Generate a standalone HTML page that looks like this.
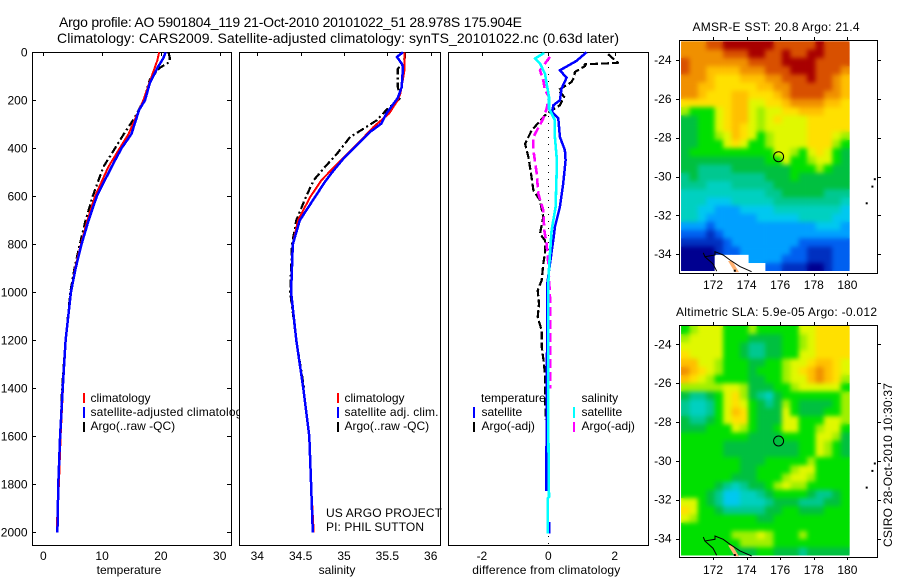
<!DOCTYPE html>
<html lang="en">
<head>
<meta charset="utf-8">
<title>Argo profile</title>
<style>
html,body{margin:0;padding:0;background:#fff;}
svg{display:block;}
text{font-family:"Liberation Sans",sans-serif;font-size:12px;fill:#000;}
.title{font-size:14px;}
</style>
</head>
<body>
<svg id="chart" xmlns="http://www.w3.org/2000/svg" width="900" height="580" viewBox="0 0 900 580">
  <defs>
    <filter id="soften" x="-5%" y="-5%" width="110%" height="110%" color-interpolation-filters="sRGB">
      <feGaussianBlur in="SourceGraphic" stdDeviation="2.5" result="soft"/>
      <feMerge>
        <feMergeNode in="SourceGraphic"/>
        <feMergeNode in="soft"/>
      </feMerge>
    </filter>
    <clipPath id="clip-sst"><rect x="681" y="41" width="169" height="230"/></clipPath>
    <clipPath id="clip-sla"><rect x="681" y="326" width="169" height="229.5"/></clipPath>
    <clipPath id="frame-sst"><rect x="680" y="41" width="197" height="232"/></clipPath>
    <clipPath id="frame-sla"><rect x="680" y="326" width="197" height="231"/></clipPath>
  </defs>
  <rect x="0" y="0" width="900" height="580" fill="#fff"/>
  <text class="title" x="59" y="27" textLength="463" lengthAdjust="spacing">Argo profile: AO 5901804_119 21-Oct-2010 20101022_51 28.978S 175.904E</text>
  <text class="title" x="57" y="43" textLength="562" lengthAdjust="spacing">Climatology: CARS2009. Satellite-adjusted climatology: synTS_20101022.nc (0.63d later)</text>

  <g id="panel-t"></g>
  <g>
    <rect x="83" y="393" width="2" height="10" fill="#f00"/>
    <rect x="83" y="407" width="2" height="11" fill="#00f"/>
    <rect x="83" y="422" width="2" height="10" fill="#000"/>
    <text x="90.5" y="402">climatology</text>
    <text x="90.5" y="416" textLength="158" lengthAdjust="spacing">satellite-adjusted climatology</text>
    <text x="90.5" y="430">Argo(..raw -QC)</text>
  </g>

  <rect x="239" y="52" width="202" height="494" fill="#fff"/>
  <g id="panel-s"></g>
  <g>
    <rect x="337" y="393" width="2" height="10" fill="#f00"/>
    <rect x="337" y="407" width="2" height="11" fill="#00f"/>
    <rect x="337" y="422" width="2" height="10" fill="#000"/>
    <text x="344.5" y="402">climatology</text>
    <text x="344.5" y="416" textLength="94" lengthAdjust="spacing">satellite adj. clim.</text>
    <text x="344.5" y="430">Argo(..raw -QC)</text>
    <text x="326" y="517" textLength="116" lengthAdjust="spacing">US ARGO PROJECT</text>
    <text x="326" y="531" textLength="98" lengthAdjust="spacing">PI: PHIL SUTTON</text>
  </g>

  <g id="panel-d"></g>
  <g>
    <text x="481" y="402">temperature</text>
    <text x="581.5" y="402">salinity</text>
    <rect x="473" y="407" width="2" height="11" fill="#00f"/>
    <rect x="473" y="422" width="2" height="10" fill="#000"/>
    <rect x="573" y="407" width="2" height="11" fill="#0ff"/>
    <rect x="573" y="422" width="2" height="10" fill="#f0f"/>
    <text x="481.5" y="416">satellite</text>
    <text x="481.5" y="430">Argo(-adj)</text>
    <text x="581.5" y="416">satellite</text>
    <text x="581.5" y="430">Argo(-adj)</text>
  </g>

  <g id="map-sst"></g>
  <text x="692.5" y="31" textLength="167" lengthAdjust="spacing">AMSR-E SST: 20.8 Argo: 21.4</text>
  <g id="map-sla"></g>
  <text x="676" y="316" textLength="201" lengthAdjust="spacing">Altimetric SLA: 5.9e-05 Argo: -0.012</text>
  <text transform="translate(892 547) rotate(-90)" textLength="164" lengthAdjust="spacing">CSIRO 28-Oct-2010 10:30:37</text>
</svg>

<script>
// ---------- Profile data ----------
const tempTicks = [0, 10, 20, 30];
const salTicks = [34, 34.5, 35, 35.5, 36];
const salTickLabels = ['34', '34.5', '35', '35.5', '36'];
const diffTicks = [-2, 0, 2];
const depthTicks = [0, 200, 400, 600, 800, 1000, 1200, 1400, 1600, 1800, 2000];

const tempClimDepth = [0, 33, 75, 200, 240, 340, 400, 478, 600, 700, 800, 900, 1000, 1200, 1400, 1600, 1800, 1950, 2000];
const tempClim = [19.7, 19.4, 18.8, 17.0, 16.3, 14.5, 13.0, 11.05, 8.8, 7.5, 6.4, 5.4, 4.7, 3.8, 3.35, 2.95, 2.65, 2.35, 2.35];
const tempSatDepth = [0, 25, 61, 130, 200, 240, 340, 400, 478, 600, 700, 800, 900, 1000, 1200, 1400, 1600, 1800, 2000];
const tempSat = [20.8, 20.4, 19.5, 18.1, 17.3, 16.3, 15.0, 13.3, 11.6, 9.1, 7.7, 6.5, 5.5, 4.7, 3.8, 3.3, 2.85, 2.55, 2.4];
const tempArgoDepth = [0, 20, 40, 65, 115, 200, 270, 340, 400, 478, 600, 700, 800, 900, 1000, 1200, 1400, 1600];
const tempArgo = [21.3, 21.5, 21.5, 19.8, 18.1, 17.1, 15.6, 13.7, 12.2, 10.2, 8.4, 7.2, 6.2, 5.3, 4.6, 3.8, 3.2, 2.85];

const salClimDepth = [0, 70, 172, 200, 255, 311, 380, 465, 533, 603, 700, 800, 1000, 1200, 1400, 1600, 1800, 2000];
const salClim = [35.70, 35.70, 35.65, 35.62, 35.52, 35.34, 35.16, 34.92, 34.74, 34.61, 34.47, 34.41, 34.39, 34.45, 34.53, 34.6, 34.62, 34.65];
const salSatDepth = [0, 19, 47, 60, 145, 190, 255, 297, 332, 380, 436, 492, 540, 603, 700, 800, 1000, 1200, 1400, 1600, 1800, 2000];
const salSat = [35.68, 35.61, 35.665, 35.68, 35.665, 35.62, 35.49, 35.43, 35.30, 35.165, 35.01, 34.88, 34.78, 34.665, 34.49, 34.41, 34.39, 34.45, 34.53, 34.6, 34.62, 34.64];
const salArgoDepth = [0, 25, 70, 145, 190, 240, 283, 311, 353, 422, 478, 533, 603, 700, 800, 1000, 1200, 1400];
const salArgo = [35.70, 35.70, 35.62, 35.62, 35.65, 35.49, 35.38, 35.26, 35.07, 34.92, 34.78, 34.65, 34.56, 34.45, 34.40, 34.38, 34.45, 34.54];

const diffTempSatDepth = [0, 36, 75, 106, 151, 200, 221, 249, 276, 353, 408, 450, 547, 644, 728, 783, 811, 881, 964, 1159, 1381, 1561, 1828];
const diffTempSat = [1.15, 0.85, 0.35, 0.55, 0.4, 0.35, 0.15, 0.12, 0.3, 0.35, 0.5, 0.52, 0.45, 0.35, 0.2, 0.15, 0.12, 0.05, -0.03, -0.03, -0.05, -0.05, -0.06];
const diffTempArgoDepth = [8, 44, 50, 58, 82, 103, 124, 158, 186, 221, 242, 263, 325, 381, 436, 505, 575, 617, 686, 756, 784, 838, 881, 950, 992, 1048, 1103, 1159, 1228, 1298, 1353, 1395, 1533];
const diffTempArgo = [1.8, 2.1, 1.1, 1.1, 0.8, 0.78, 0.7, 0.3, 0.48, 0.35, 0.1, -0.1, -0.5, -0.7, -0.6, -0.52, -0.45, -0.25, -0.15, -0.25, -0.1, -0.1, -0.15, -0.2, -0.32, -0.28, -0.32, -0.2, -0.2, -0.13, -0.1, -0.1, -0.08];
const diffSalArgoDepth = [19, 75, 117, 158, 186, 235, 276, 353, 408, 505, 589, 658, 742, 798, 881, 1020, 1159, 1298, 1400];
const diffSalArgo = [0.05, -0.25, -0.15, -0.1, 0.02, -0.05, -0.15, -0.45, -0.45, -0.35, -0.3, -0.15, -0.12, -0.05, 0, 0.05, 0.05, 0.05, 0.05];
const diffSalSatDepth = [0, 5, 26, 47, 89, 130, 186, 235, 283, 353, 436, 505, 644, 742, 881, 964, 1159, 1381, 1561, 1853, 1860, 2005];
const diffSalSat = [-0.15, -0.15, -0.40, -0.25, -0.10, -0.05, 0.02, 0.02, 0.2, 0.2, 0.25, 0.25, 0.22, 0.1, 0.03, 0, 0, 0, 0, 0.02, -0.02, -0.02];
const diffBlipDepth = [1957, 2005];
const diffBlip = [0.04, 0.04];

// ---------- Map data (colour level per cell, null = land / no data) ----------
const lonTicks = [172, 174, 176, 178, 180];
const latTicks = [-24, -26, -28, -30, -32, -34];
const sstRows = [
[13,13,13,14,14,15,15,15,15,15,15,14,14,14,14,14,15,14,14,14],
[13,13,13,13,13,14,14,14,15,15,14,14,15,14,14,15,15,14,14,14],
[14,13,13,13,13,13,13,13,14,14,14,14,15,15,15,15,14,14,14,14],
[14,13,13,12,12,12,12,13,13,13,14,14,14,15,15,15,14,14,14,13],
[13,13,13,12,11,11,11,12,12,12,13,13,14,14,14,15,14,14,13,12],
[13,13,12,12,11,11,11,11,11,12,12,13,13,14,14,14,14,14,13,12],
[13,13,12,11,11,11,12,12,11,11,11,12,13,14,14,14,14,13,13,12],
[11,11,11,11,11,11,12,12,10,10,11,11,12,13,13,13,13,12,12,11],
[9,8,8,8,10,11,12,12,10,9,10,10,11,11,12,12,12,11,11,11],
[7,7,8,8,10,11,12,12,10,9,10,11,10,10,10,11,11,11,11,11],
[7,7,8,8,10,11,12,11,10,9,10,10,10,10,10,11,11,11,11,11],
[7,7,8,8,9,10,12,11,10,8,9,10,10,10,10,11,11,11,10,9],
[7,7,8,8,8,10,11,10,8,8,9,10,10,10,10,11,11,11,9,8],
[7,8,8,8,8,8,8,8,8,8,8,10,10,9,8,10,11,10,8,7],
[7,7,7,7,7,7,7,7,7,7,8,8,10,8,8,9,10,10,8,7],
[7,7,6,6,6,6,7,7,7,7,7,7,7,8,8,8,9,8,7,7],
[6,7,6,6,6,6,6,6,6,6,7,7,7,8,7,7,7,7,7,7],
[6,6,6,5,5,5,6,6,6,6,6,7,7,7,7,7,7,7,7,7],
[5,5,5,5,5,5,5,5,5,5,6,6,7,7,7,7,7,6,6,6],
[5,5,5,4,4,4,5,5,5,5,5,6,6,6,6,6,6,6,6,5],
[5,5,4,4,3,3,3,4,4,4,4,5,5,5,5,5,5,5,5,4],
[5,5,4,3,3,3,3,3,3,4,4,4,4,4,5,5,5,5,4,4],
[3,3,3,2,3,3,3,3,3,3,3,3,3,3,3,3,4,4,4,3],
[2,2,2,1,2,3,3,3,3,3,3,3,3,3,3,3,3,3,3,3],
[1,1,1,1,1,2,3,3,3,3,3,3,3,3,2,2,2,2,2,2],
[0,0,0,0,1,2,2,3,3,3,3,3,3,2,2,1,1,1,2,2],
[0,0,0,0,null,null,null,null,3,3,3,3,2,2,2,1,1,1,2,2],
[0,0,0,0,null,null,null,null,null,null,2,2,1,1,1,0,0,1,2,2]
];
const slaRows = [
[8,9,10,10,10,8,8,8,9,8,8,8,8,8,10,10,11,11,11,11],
[9,10,10,10,10,8,8,8,7,7,7,7,8,8,9,10,11,11,11,11],
[10,10,10,10,10,8,8,7,6,6,7,7,8,8,9,10,11,11,11,11],
[11,10,10,10,10,8,8,7,6,6,7,7,8,8,10,10,11,11,11,11],
[12,12,10,10,9,8,8,8,7,7,8,8,9,10,10,11,12,12,11,10],
[13,12,11,10,9,8,8,8,7,8,8,8,9,10,11,12,13,12,11,10],
[12,11,10,9,8,8,8,8,7,7,8,8,9,10,10,12,13,12,11,9],
[9,9,9,9,9,10,10,9,7,7,7,8,8,9,10,10,10,10,10,8],
[7,6,6,7,8,10,11,9,7,6,5,7,8,8,8,8,8,8,8,9],
[6,5,5,6,8,10,11,10,8,7,6,7,9,8,7,7,7,7,8,9],
[6,5,5,6,8,10,12,11,8,7,7,7,10,8,7,7,7,8,8,9],
[7,6,6,7,8,10,11,11,8,7,7,7,10,10,8,8,8,10,10,9],
[7,7,7,8,8,8,10,9,8,7,7,8,10,10,8,8,9,10,10,8],
[8,8,8,8,8,8,8,8,7,7,7,7,8,8,8,8,10,10,9,7],
[8,8,8,8,8,7,7,7,7,7,7,7,7,7,8,8,10,9,8,7],
[8,8,8,8,8,7,7,7,7,7,7,7,7,7,8,8,10,9,8,7],
[8,8,8,8,8,8,8,7,7,7,8,8,8,8,8,9,8,8,8,8],
[8,8,8,8,8,8,8,7,7,8,8,8,8,9,10,10,8,8,8,8],
[8,8,8,8,8,8,7,7,7,8,8,8,9,10,10,9,8,8,8,8],
[8,8,8,8,7,6,5,6,7,7,8,9,10,9,9,8,8,8,8,8],
[8,8,8,7,6,4,4,5,5,6,7,8,8,8,8,7,6,6,7,8],
[10,10,8,7,6,4,4,5,5,5,6,7,7,7,6,6,6,7,7,8],
[11,10,8,8,7,6,6,6,6,6,7,7,8,8,7,7,7,8,8,8],
[10,9,8,8,8,8,8,8,8,7,7,8,8,8,8,8,8,8,8,8],
[8,8,8,8,8,8,8,8,8,8,8,8,8,8,8,8,8,8,8,8],
[8,8,8,8,8,8,9,9,9,10,9,8,8,8,9,8,8,8,8,8],
[8,8,8,8,8,8,8,9,9,9,9,8,8,8,8,8,8,8,8,8],
[8,8,8,8,8,8,7,7,7,8,8,7,7,7,6,7,7,7,7,7]
];
const coastUpperLon = [171.42, 171.52, 172.12, 172.12, 172.61, 173.01, 173.61, 174.3];
const coastUpperLat = [-33.93, -34.13, -34.04, -33.87, -34.04, -34.3, -34.64, -34.9];
const coastLowerLon = [171.52, 172.0, 172.22];
const coastLowerLat = [-34.13, -34.5, -34.87];
const landLon = [172.9, 173.15, 173.55, 173.3];
const landLat = [-34.35, -34.35, -34.92, -34.92];
const islandLon = [181.63, 181.49, 181.15, 173.3];
const islandLat = [-30.14, -30.52, -31.38, -34.85];
const argoLon = 175.904;
const argoLat = -28.978;

// ---------- Drawing ----------
const NS = 'http://www.w3.org/2000/svg';
const palette = ['#000090','#0030c0','#0060f0','#00a0ff','#00c8f0','#00d0c0','#00c890','#00c040','#00e000','#a0f000','#e0f800','#ffe000','#ffc000','#f09000','#d85000','#a80000'];
const depthY = d => 52.3 + 0.24 * d;

function el(parent, tag, attrs) {
  const n = document.createElementNS(NS, tag);
  for (const k in attrs) n.setAttribute(k, attrs[k]);
  parent.appendChild(n);
  return n;
}

function label(parent, x, y, str, anchor, name) {
  const t = el(parent, 'text', {x: x, y: y, 'text-anchor': anchor});
  t.textContent = str;
  
  
  return t;
}

function tick(parent, x1, y1, x2, y2) {
  const l = el(parent, 'line', {x1: x1, y1: y1, x2: x2, y2: y2, stroke: '#000', 'stroke-width': 1, 'shape-rendering': 'crispEdges'});
  
  
}

function series(parent, xs, ds, xf, color, width, dash, name) {
  const pts = ds.map((d, i) => xf(xs[i]).toFixed(1) + ',' + depthY(d).toFixed(1)).join(' ');
  const p = el(parent, 'polyline', {points: pts, fill: 'none', stroke: color, 'stroke-width': width, 'stroke-linejoin': 'round', 'shape-rendering': 'crispEdges'});
  if (dash) p.setAttribute('stroke-dasharray', dash);
  
  
}

function frame(parent, x, y, w, h, fill) {
  const r = el(parent, 'rect', {x: x, y: y, width: w, height: h, fill: fill, stroke: '#000', 'stroke-width': 1, 'shape-rendering': 'crispEdges'});
  
  
}

// Temperature panel
const gT = document.getElementById('panel-t');
const tX = v => 43.3 + 5.88 * v;
frame(gT, 32.5, 52.5, 199, 493, '#fff');
tempTicks.forEach(v => {
  tick(gT, Math.round(tX(v)) + 0.5, 52, Math.round(tX(v)) + 0.5, 56);
  label(gT, tX(v), 560, String(v), 'middle', 'x-tick-label');
});
depthTicks.forEach(d => {
  const y = Math.round(depthY(d)) + 0.5;
  tick(gT, 32, y, 36, y);
  tick(gT, 227, y, 231, y);
  label(gT, 27.5, depthY(d) + 4, String(d), 'end', 'y-tick-label');
});
label(gT, 129, 574, 'temperature', 'middle', 'x-axis-title');
series(gT, tempArgo, tempArgoDepth, tX, '#000', 2.2, '8 3 2 3', 'temperature-argo-line');
series(gT, tempClim, tempClimDepth, tX, '#f00', 2, null, 'temperature-climatology-line');
series(gT, tempSat, tempSatDepth, tX, '#00f', 2.5, null, 'temperature-satellite-line');

// Salinity panel
const gS = document.getElementById('panel-s');
const sX = v => 257.3 + 86.7 * (v - 34);
frame(gS, 239.5, 52.5, 201, 493, 'none');
salTicks.forEach((v, i) => {
  tick(gS, Math.round(sX(v)) + 0.5, 52, Math.round(sX(v)) + 0.5, 56);
  label(gS, sX(v), 560, salTickLabels[i], 'middle', 'x-tick-label');
});
label(gS, 337, 574, 'salinity', 'middle', 'x-axis-title');
series(gS, salArgo, salArgoDepth, sX, '#000', 2.2, '8 3 2 3', 'salinity-argo-line');
series(gS, salClim, salClimDepth, sX, '#f00', 2, null, 'salinity-climatology-line');
series(gS, salSat, salSatDepth, sX, '#00f', 2.5, null, 'salinity-satellite-line');

// Difference panel
const gD = document.getElementById('panel-d');
const dX = v => 548.3 + 33.2 * v;
frame(gD, 448.5, 52.5, 200, 493, '#fff');
diffTicks.forEach(v => {
  tick(gD, Math.round(dX(v)) + 0.5, 52, Math.round(dX(v)) + 0.5, 56);
  label(gD, dX(v), 560, String(v), 'middle', 'x-tick-label');
});
const diffTitle = label(gD, 472.3, 574, 'difference from climatology', 'start', 'x-axis-title');
diffTitle.setAttribute('textLength', '148');
const zero = el(gD, 'line', {x1: dX(0), y1: 53, x2: dX(0), y2: 545, stroke: '#000', 'stroke-width': 1, 'stroke-dasharray': '1 6', 'shape-rendering': 'crispEdges'});


series(gD, diffTempArgo, diffTempArgoDepth, dX, '#000', 2.2, '8 3', 'difference-temp-argo-line');
series(gD, diffTempSat, diffTempSatDepth, dX, '#00f', 2.5, null, 'difference-temp-satellite-line');
series(gD, diffBlip, diffBlipDepth, dX, '#00f', 2, null, 'difference-temp-satellite-tail');
series(gD, diffSalArgo, diffSalArgoDepth, dX, '#f0f', 2.6, '9 4', 'difference-sal-argo-line');
series(gD, diffSalSat, diffSalSatDepth, dX, '#0ff', 2.6, null, 'difference-sal-satellite-line');

// Maps
function drawMap(id, rows, lat24Y, frameTop, frameH, labelY, clipId, frameClipId) {
  const g = document.getElementById(id);
  const lonX = lon => 713 + (lon - 172) * 16.8;
  const latY = lat => lat24Y + (-24 - lat) * 19.42;
  const lon0 = 170.1, dLon = 0.5, lat0 = -23.05, dLat = 0.4224;
  const clipper = el(g, 'g', {'clip-path': 'url(#' + clipId + ')'});
  
  
  const field = el(clipper, 'g', {filter: 'url(#soften)'});
  
  
  rows.forEach((row, r) => {
    row.forEach((v, c) => {
      if (v === null) return;
      const x0 = lonX(lon0 + c * dLon), x1 = lonX(lon0 + (c + 1) * dLon);
      const y0 = latY(lat0 - r * dLat), y1 = latY(lat0 - (r + 1) * dLat);
      const cell = el(field, 'rect', {x: x0.toFixed(2), y: y0.toFixed(2), width: (x1 - x0 + 0.3).toFixed(2), height: (y1 - y0 + 0.3).toFixed(2), fill: palette[v]});
      
      
    });
  });
  rows.forEach((row, r) => {
    row.forEach((v, c) => {
      if (v !== null) return;
      const x0 = lonX(lon0 + c * dLon), x1 = lonX(lon0 + (c + 1) * dLon);
      const y0 = latY(lat0 - r * dLat), y1 = latY(lat0 - (r + 1) * dLat);
      const blank = el(clipper, 'rect', {x: x0.toFixed(2), y: y0.toFixed(2), width: (x1 - x0 + 0.3).toFixed(2), height: (y1 - y0 + 0.3).toFixed(2), fill: '#fff'});
      
      
    });
  });
  const overlay = el(g, 'g', {'clip-path': 'url(#' + frameClipId + ')'});
  
  
  const land = el(overlay, 'polygon', {points: landLon.map((v, i) => lonX(v).toFixed(1) + ',' + latY(landLat[i]).toFixed(1)).join(' '), fill: '#ffb070'});
  
  
  [[coastUpperLon, coastUpperLat], [coastLowerLon, coastLowerLat]].forEach(pair => {
    const c = el(overlay, 'polyline', {points: pair[0].map((v, i) => lonX(v).toFixed(1) + ',' + latY(pair[1][i]).toFixed(1)).join(' '), fill: 'none', stroke: '#000', 'stroke-width': 1});
    
    
  });
  islandLon.forEach((v, i) => {
    const isl = el(overlay, 'rect', {x: (lonX(v) - 1).toFixed(1), y: (latY(islandLat[i]) - 1).toFixed(1), width: 2, height: 2, fill: '#000'});
    
    
  });
  frame(g, 679.5, frameTop + 0.5, 198, frameH, 'none');
  lonTicks.forEach(v => {
    const x = Math.round(lonX(v)) + 0.5;
    tick(g, x, frameTop - 3, x, frameTop);
    tick(g, x, frameTop + frameH, x, frameTop + frameH + 3);
    label(g, lonX(v), labelY, String(v), 'middle', 'x-tick-label');
  });
  latTicks.forEach(v => {
    const y = Math.round(latY(v)) + 0.5;
    tick(g, 676, y, 679, y);
    tick(g, 878, y, 881, y);
    label(g, 671.5, latY(v) + 4, String(v), 'end', 'y-tick-label');
  });
  const m = el(g, 'circle', {cx: lonX(argoLon).toFixed(1), cy: latY(argoLat).toFixed(1), r: 5, fill: 'none', stroke: '#000', 'stroke-width': 1});
  
  
}
drawMap('map-sst', sstRows, 60, 40, 233, 289, 'clip-sst', 'frame-sst');
drawMap('map-sla', slaRows, 344.3, 325, 232, 574, 'clip-sla', 'frame-sla');
</script>
</body>
</html>
